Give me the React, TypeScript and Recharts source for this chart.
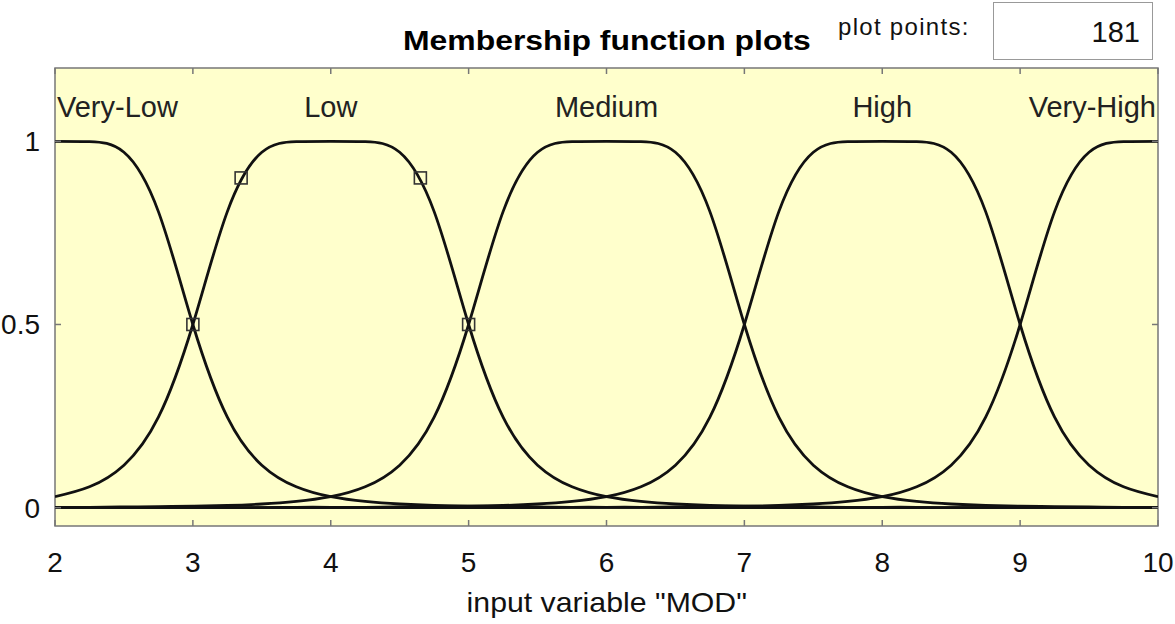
import {
  ComposedChart,
  Line,
  Scatter,
  XAxis,
  YAxis,
  ReferenceArea,
} from 'recharts';

// x samples (input variable "MOD")
const xs = [
  2, 2.25, 2.5, 2.75, 3, 3.25, 3.5, 3.75, 4, 4.25, 4.5, 4.75, 5, 5.25, 5.5, 5.75,
  6, 6.25, 6.5, 6.75, 7, 7.25, 7.5, 7.75, 8, 8.25, 8.5, 8.75, 9, 9.25, 9.5, 9.75, 10,
];

const veryLow = [
  1, 0.999, 0.97, 0.808, 0.5, 0.247, 0.116, 0.057, 0.03, 0.017, 0.01, 0.006, 0.004, 0.003, 0.002, 0.001,
  0.001, 0.001, 0, 0, 0, 0, 0, 0, 0, 0, 0, 0, 0, 0, 0, 0, 0,
];
const low = [
  0.03, 0.057, 0.116, 0.247, 0.5, 0.808, 0.97, 0.999, 1, 0.999, 0.97, 0.808, 0.5, 0.247, 0.116, 0.057,
  0.03, 0.017, 0.01, 0.006, 0.004, 0.003, 0.002, 0.001, 0.001, 0.001, 0, 0, 0, 0, 0, 0, 0,
];
const medium = [
  0.001, 0.001, 0.002, 0.003, 0.004, 0.006, 0.01, 0.017, 0.03, 0.057, 0.116, 0.247, 0.5, 0.808, 0.97, 0.999,
  1, 0.999, 0.97, 0.808, 0.5, 0.247, 0.116, 0.057, 0.03, 0.017, 0.01, 0.006, 0.004, 0.003, 0.002, 0.001, 0.001,
];
const high = [
  0, 0, 0, 0, 0, 0, 0, 0.001, 0.001, 0.001, 0.002, 0.003, 0.004, 0.006, 0.01, 0.017,
  0.03, 0.057, 0.116, 0.247, 0.5, 0.808, 0.97, 0.999, 1, 0.999, 0.97, 0.808, 0.5, 0.247, 0.116, 0.057, 0.03,
];
const veryHigh = [
  0, 0, 0, 0, 0, 0, 0, 0, 0, 0, 0, 0, 0, 0, 0, 0.001,
  0.001, 0.001, 0.002, 0.003, 0.004, 0.006, 0.01, 0.017, 0.03, 0.057, 0.116, 0.247, 0.5, 0.808, 0.97, 0.999, 1,
];

const mfNames = ['Very-Low', 'Low', 'Medium', 'High', 'Very-High'];
const mfCenters = [2, 4, 6, 8, 10];
const labelLevel = 1.093;

// selected MF handles (on "Low")
const handleX = [3, 3.35, 4.65, 5];
const handleY = [0.5, 0.9, 0.9, 0.5];

const xTicks = [2, 3, 4, 5, 6, 7, 8, 9, 10];
const yTicks = [0, 0.5, 1];

const W = 1175;
const H = 624;
const M = { top: 68, right: 17, bottom: 0, left: 0 };
const Y_W = 55;
const X_H = 98;
const PLOT_W = W - M.left - M.right - Y_W;
const PLOT_H = H - M.top - X_H;
const FONT = '"Liberation Sans", Arial, Helvetica, sans-serif';
const BG = '#FFFFCC';
const FRAME = '#777';

const keys = ['veryLow', 'low', 'medium', 'high', 'veryHigh'];
const series = [veryLow, low, medium, high, veryHigh];
const rows = xs.map((x, i) => {
  const r: Record<string, number> = { x };
  keys.forEach((k, j) => (r[k] = series[j][i]));
  return r;
});
const labels = mfNames.map((name, i) => ({ x: mfCenters[i], y: labelLevel, name }));
const handles = handleX.map((x, i) => ({ x, y: handleY[i] }));

function XTick({ x, y, payload }: any) {
  return (
    <g>
      <line x1={x} x2={x} y1={y - 6} y2={y} stroke={FRAME} strokeWidth={1.5} />
      <line x1={x} x2={x} y1={y - PLOT_H} y2={y - PLOT_H + 6} stroke={FRAME} strokeWidth={1.5} />
      <text x={x} y={y + 46} textAnchor="middle" fontSize={28} fontFamily={FONT} fill="#111">
        {payload.value}
      </text>
    </g>
  );
}

function YTick({ x, y, payload }: any) {
  return (
    <g>
      <line x1={x} x2={x + 6} y1={y} y2={y} stroke={FRAME} strokeWidth={1.5} />
      <line x1={x + PLOT_W - 6} x2={x + PLOT_W} y1={y} y2={y} stroke={FRAME} strokeWidth={1.5} />
      <text x={x - 15} y={y + 10} textAnchor="end" fontSize={28} fontFamily={FONT} fill="#111">
        {payload.value}
      </text>
    </g>
  );
}

function MfLabel(props: any) {
  const { cx, cy, payload } = props;
  const first = payload.x === mfCenters[0];
  const last = payload.x === mfCenters[mfCenters.length - 1];
  return (
    <text
      x={first ? cx + 2 : last ? cx - 2 : cx}
      y={cy + 10}
      textAnchor={first ? 'start' : last ? 'end' : 'middle'}
      fontSize={29}
      fontFamily={FONT}
      fill="#222"
    >
      {payload.name}
    </text>
  );
}

function Handle({ cx, cy }: any) {
  return <rect x={cx - 6} y={cy - 6} width={12} height={12} fill="none" stroke="#333" strokeWidth={1.6} />;
}

export default function App() {
  return (
    <div style={{ position: 'relative', width: W, height: H, background: '#fff', fontFamily: FONT }}>
      <style>{'body{margin:0}'}</style>
      <div
        style={{
          position: 'absolute',
          left: 0,
          width: 1214,
          top: 24,
          textAlign: 'center',
          fontSize: 28,
          fontWeight: 'bold',
          color: '#000',
          lineHeight: '34px',
        }}
      >
        <span style={{ display: 'inline-block', transform: 'scaleX(1.14)' }}>Membership function plots</span>
      </div>
      <div style={{ position: 'absolute', left: 838, top: 12, fontSize: 24, letterSpacing: 1.3, color: '#111', lineHeight: '30px' }}>
        plot points:
      </div>
      <div
        style={{
          position: 'absolute',
          left: 993,
          top: 2,
          width: 160,
          height: 58,
          boxSizing: 'border-box',
          border: '1.5px solid #999',
          background: '#fff',
          textAlign: 'right',
          paddingRight: 12,
          fontSize: 29,
          lineHeight: '58px',
          color: '#111',
        }}
      >
        181
      </div>
      <ComposedChart width={W} height={H} data={rows} margin={M} style={{ position: 'absolute', left: 0, top: 0 }}>
        <ReferenceArea x1={2} x2={10} y1={-0.05} y2={1.2} fill={BG} fillOpacity={1} stroke={FRAME} strokeWidth={1.5} />
        <XAxis
          type="number"
          dataKey="x"
          domain={[2, 10]}
          ticks={xTicks}
          interval={0}
          height={X_H}
          axisLine={false}
          tickLine={false}
          tickSize={0}
          tickMargin={0}
          tick={<XTick />}
          allowDataOverflow
        />
        <YAxis
          type="number"
          domain={[-0.05, 1.2]}
          ticks={yTicks}
          interval={0}
          width={Y_W}
          axisLine={false}
          tickLine={false}
          tickSize={0}
          tickMargin={0}
          tick={<YTick />}
          allowDataOverflow
        />
        {keys.map((k) => (
          <Line
            key={k}
            dataKey={k}
            type="natural"
            stroke="#111"
            strokeWidth={2.8}
            dot={false}
            activeDot={false}
            isAnimationActive={false}
          />
        ))}
        <Scatter data={handles} dataKey="y" shape={<Handle />} isAnimationActive={false} />
        <Scatter data={labels} dataKey="y" shape={<MfLabel />} isAnimationActive={false} />
      </ComposedChart>
      <div
        style={{
          position: 'absolute',
          left: 0,
          width: 1214,
          top: 586,
          textAlign: 'center',
          fontSize: 28,
          color: '#111',
          lineHeight: '34px',
        }}
      >
        <span style={{ display: 'inline-block', transform: 'scaleX(1.08)' }}>input variable "MOD"</span>
      </div>
    </div>
  );
}
